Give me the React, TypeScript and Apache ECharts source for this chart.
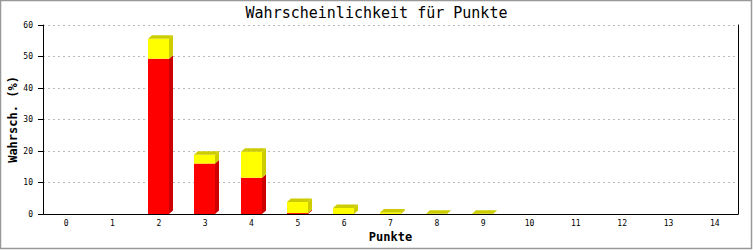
import React, { useEffect, useRef } from "react";
import * as echarts from "echarts";

const categories = ["0", "1", "2", "3", "4", "5", "6", "7", "8", "9", "10", "11", "12", "13", "14"];
const redValues = [0, 0, 49.3, 16.0, 11.5, 0.3, 0, 0, 0, 0, 0, 0, 0, 0, 0];
const yellowValues = [0, 0, 6.3, 2.8, 8.3, 3.5, 1.9, 0.5, 0.05, 0.05, 0, 0, 0, 0, 0];
const yTicks = { min: 0, max: 60, interval: 10 };

const FONT = "'DejaVu Sans Mono', 'Liberation Mono', monospace";

export default function App() {
  const ref = useRef<HTMLDivElement>(null);
  useEffect(() => {
    if (!ref.current) return;
    const chart = echarts.init(ref.current, null, { renderer: "svg" });
    const data = categories.map((_, i) => [i, redValues[i], yellowValues[i]]);
    const option: any = {
      animation: false,
      backgroundColor: "#ffffff",
      title: {
        text: "Wahrscheinlichkeit für Punkte",
        left: "center",
        top: 5,
        padding: 0,
        textStyle: { fontFamily: FONT, fontSize: 15, fontWeight: "normal", color: "#000" },
      },
      grid: { left: 43, right: 15, top: 25, bottom: 36, containLabel: false, outerBoundsMode: "none" },
      xAxis: {
        type: "category",
        data: categories,
        boundaryGap: true,
        name: "Punkte",
        nameLocation: "middle",
        nameGap: 17,
        nameMoveOverlap: false,
        nameTextStyle: { fontFamily: FONT, fontSize: 12, fontWeight: "bold", color: "#000" },
        axisLine: { show: true, lineStyle: { color: "#000", width: 1 } },
        axisTick: { show: false },
        axisLabel: { fontFamily: FONT, fontSize: 8, color: "#000", margin: 5 },
        splitLine: { show: false },
      },
      yAxis: [
        {
          type: "value",
          min: yTicks.min,
          max: yTicks.max,
          interval: yTicks.interval,
          name: "Wahrsch. (%)",
          nameLocation: "middle",
          nameRotate: 90,
          nameGap: 24,
          nameMoveOverlap: false,
          nameTextStyle: { fontFamily: FONT, fontSize: 12, fontWeight: "bold", color: "#000" },
          axisLine: { show: true, lineStyle: { color: "#000", width: 1 } },
          axisTick: { show: true, length: 5, lineStyle: { color: "#000" } },
          axisLabel: { fontFamily: FONT, fontSize: 8, color: "#000", margin: 10 },
          splitLine: { show: true, lineStyle: { color: "#bbbbbb", type: [2, 3], width: 1 } },
        },
        {
          type: "value",
          min: yTicks.min,
          max: yTicks.max,
          interval: yTicks.interval,
          position: "right",
          axisLine: { show: true, lineStyle: { color: "#000", width: 1 } },
          axisTick: { show: false },
          axisLabel: { show: false },
          splitLine: { show: false },
        },
      ],
      graphic: [
        {
          type: "rect",
          shape: { x: 0.5, y: 0.5, width: 751, height: 248 },
          style: { fill: "none", stroke: "#999999", lineWidth: 1.5 },
          silent: true,
        },
      ],
      series: [
        {
          type: "custom",
          data,
          encode: { x: 0, y: [1, 2] },
          renderItem: (params: any, api: any) => {
            const idx = api.value(0);
            const red = api.value(1);
            const yel = api.value(2);
            const total = red + yel;
            if (total <= 0) return { type: "group", children: [] };
            const base = api.coord([idx, 0]);
            const pRed = api.coord([idx, red]);
            const pTot = api.coord([idx, total]);
            const bw = 21;
            const x0 = Math.round(base[0] - 11);
            const x1 = x0 + bw;
            const dx = 4;
            const dy = 3.5;
            const children: any[] = [];
            const seg = (yTop: number, yBot: number, front: string, side: string) => {
              children.push({
                type: "rect",
                shape: { x: x0, y: yTop, width: bw, height: Math.max(0, yBot - yTop) },
                style: { fill: front },
              });
              children.push({
                type: "polygon",
                shape: { points: [[x1, yTop], [x1 + dx, yTop - dy], [x1 + dx, yBot - dy], [x1, yBot]] },
                style: { fill: side },
              });
            };
            if (red > 0) seg(pRed[1], base[1], "#ff0000", "#cc0000");
            if (yel > 0) seg(pTot[1], pRed[1], "#ffff00", "#cccc00");
            const topColor = yel > 0 ? "#cccc00" : "#cc0000";
            children.push({
              type: "polygon",
              shape: { points: [[x0, pTot[1]], [x0 + dx, pTot[1] - dy], [x1 + dx, pTot[1] - dy], [x1, pTot[1]]] },
              style: { fill: topColor },
            });
            return { type: "group", children };
          },
        },
      ],
    };
    chart.setOption(option);
    return () => chart.dispose();
  }, []);
  return (
    <div
      ref={ref}
      style={{ position: "fixed", left: 0, top: 0, width: 753, height: 250, background: "#fff" }}
    />
  );
}
